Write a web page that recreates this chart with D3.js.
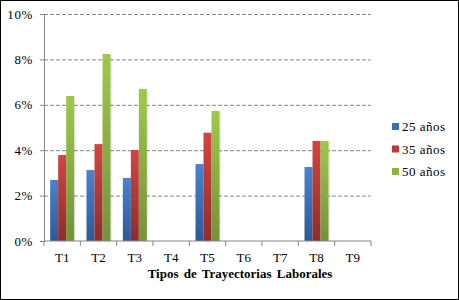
<!DOCTYPE html>
<html>
<head>
<meta charset="utf-8">
<script src="https://cdn.jsdelivr.net/npm/d3@7"></script>
<style>
  body { margin: 0; background: #fff; }
</style>
</head>
<body>
<div id="chart"></div>
<script>
// Data
const categories = ['T1', 'T2', 'T3', 'T4', 'T5', 'T6', 'T7', 'T8', 'T9'];
const seriesNames = ['25 años', '35 años', '50 años'];
const values25 = [0.0269, 0.0313, 0.0278, null, 0.0339, null, null, 0.0326, null];
const values35 = [0.0379, 0.0427, 0.0401, null, 0.0477, null, null, 0.0441, null];
const values50 = [0.0639, 0.0824, 0.0670, null, 0.0573, null, null, 0.0441, null];
const yTicks = [0, 0.02, 0.04, 0.06, 0.08, 0.10];

const w = 459;
const h = 300;
const margin = { top: 14, right: 88, bottom: 59, left: 44 };
const serif = '"Liberation Serif", "Times New Roman", serif';

const svg = d3.select('#chart')
  .append('svg')
  .attr('width', w)
  .attr('height', h)
  .attr('font-family', serif);

// gradients for each series (light top, dark bottom)
const colors = [
  { top: '#4a82d0', bottom: '#2c5a97', key: '#3c6fb8' },
  { top: '#d44441', bottom: '#902c2a', key: '#c0393a' },
  { top: '#9fc94a', bottom: '#74923a', key: '#8db443' }
];
const defs = svg.append('defs');
colors.forEach((c, i) => {
  const g = defs.append('linearGradient')
    .attr('id', 'grad' + i)
    .attr('x1', 0).attr('y1', 0).attr('x2', 0).attr('y2', 1);
  g.append('stop').attr('offset', '0%').attr('stop-color', c.top);
  g.append('stop').attr('offset', '100%').attr('stop-color', c.bottom);
});

// outer frame
svg.append('rect')
  .attr('x', 0.5).attr('y', 0.5)
  .attr('width', w - 1).attr('height', h - 1)
  .attr('fill', 'none')
  .attr('stroke', '#000');

// Scales
const xScale = d3.scaleBand()
  .domain(categories)
  .range([margin.left, w - margin.right]);

const yScale = d3.scaleLinear()
  .domain([0, 0.10])
  .range([h - margin.bottom, margin.top]);

const innerScale = d3.scaleBand()
  .domain(seriesNames)
  .range([0, 24])
  .padding(0);

// Gridlines
svg.append('g')
  .attr('class', 'grid')
  .attr('transform', `translate(${margin.left}, 0)`)
  .call(d3.axisLeft(yScale).tickValues(yTicks.slice(1)).tickSize(-(w - margin.left - margin.right)).tickFormat(''))
  .call(g => g.select('.domain').remove())
  .call(g => g.selectAll('.tick line')
    .attr('stroke', '#868686')
    .attr('stroke-dasharray', '4,2'));

// y axis
svg.append('g')
  .attr('class', 'y-axis')
  .attr('transform', `translate(${margin.left}, 0)`)
  .call(d3.axisLeft(yScale).tickValues(yTicks).tickSize(4).tickPadding(7).tickFormat(d3.format('.0%')))
  .attr('font-family', serif)
  .attr('font-size', 13)
  .call(g => g.select('.domain').attr('stroke', '#868686'))
  .call(g => g.selectAll('.tick line').attr('stroke', '#868686'))
  .call(g => g.selectAll('.tick text').attr('fill', '#000').attr('letter-spacing', 0.6));

// Bars
const allSeries = [values25, values35, values50];
allSeries.forEach((vals, i) => {
  const data = categories.map((c, j) => ({ cat: c, value: vals[j] })).filter(d => d.value != null);
  const groupOffset = (xScale.bandwidth() - 24) / 2;
  // soft shadow
  svg.append('g').selectAll('rect')
    .data(data)
    .join('rect')
    .attr('x', d => xScale(d.cat) + groupOffset + innerScale(seriesNames[i]) + 1.5)
    .attr('y', d => yScale(d.value) + 1)
    .attr('width', innerScale.bandwidth())
    .attr('height', d => yScale(0) - yScale(d.value) - 1)
    .attr('fill', 'rgba(0,0,0,0.08)');
  svg.append('g').selectAll('rect')
    .data(data)
    .join('rect')
    .attr('x', d => xScale(d.cat) + groupOffset + innerScale(seriesNames[i]))
    .attr('y', d => yScale(d.value))
    .attr('width', innerScale.bandwidth())
    .attr('height', d => yScale(0) - yScale(d.value))
    .attr('fill', `url(#grad${i})`);
});

// x axis (ticks at category boundaries)
const boundaries = categories.map(c => xScale(c)).concat([xScale.range()[1]]);
const xAxisG = svg.append('g')
  .attr('class', 'x-axis')
  .attr('transform', `translate(0, ${h - margin.bottom})`)
  .call(d3.axisBottom(xScale).tickSize(0).tickPadding(12))
  .attr('font-family', serif)
  .attr('font-size', 13)
  .call(g => g.select('.domain').attr('stroke', '#868686').attr('d', `M${xScale.range()[0]},0H${xScale.range()[1]}`))
  .call(g => g.selectAll('.tick text').attr('fill', '#000'));
xAxisG.selectAll('.boundary')
  .data(boundaries)
  .join('line')
  .attr('class', 'boundary')
  .attr('x1', d => d).attr('x2', d => d)
  .attr('y1', 0).attr('y2', 5)
  .attr('stroke', '#868686');

// Axis title
svg.append('text')
  .attr('x', 240)
  .attr('y', 278)
  .attr('text-anchor', 'middle')
  .attr('font-size', 13)
  .attr('font-weight', 'bold')
  .attr('word-spacing', 2)
  .text('Tipos de Trayectorias Laborales');

// Legend
const legend = svg.append('g')
  .attr('transform', 'translate(392, 123)');
seriesNames.forEach((name, i) => {
  const item = legend.append('g').attr('transform', `translate(0, ${i * 22.5})`);
  item.append('rect')
    .attr('width', 7).attr('height', 7)
    .attr('fill', colors[i].key);
  item.append('text')
    .attr('x', 10).attr('y', 8)
    .attr('font-size', 13)
    .attr('letter-spacing', 0.5)
    .text(name);
});
</script>
</body>
</html>
